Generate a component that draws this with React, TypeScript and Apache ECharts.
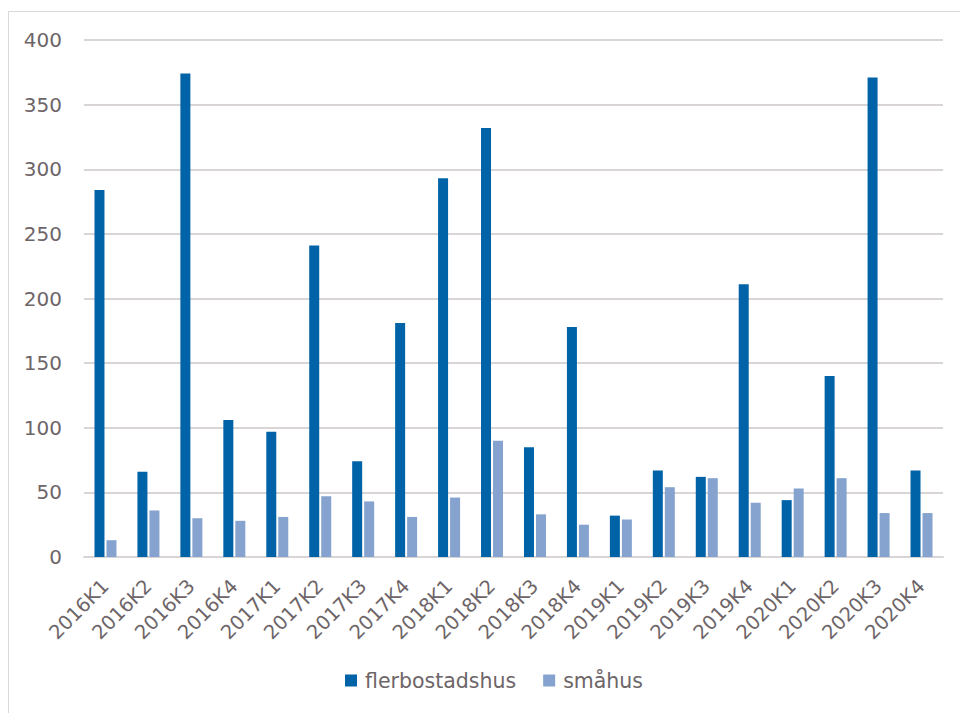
import React, { useEffect, useRef } from "react";
import * as echarts from "echarts";

const categories = [
  "2016K1", "2016K2", "2016K3", "2016K4",
  "2017K1", "2017K2", "2017K3", "2017K4",
  "2018K1", "2018K2", "2018K3", "2018K4",
  "2019K1", "2019K2", "2019K3", "2019K4",
  "2020K1", "2020K2", "2020K3", "2020K4",
];
const flerbostadshus = [284, 66, 374, 106, 97, 241, 74, 181, 293, 332, 85, 178, 32, 67, 62, 211, 44, 140, 371, 67];
const smahus = [13, 36, 30, 28, 31, 47, 43, 31, 46, 90, 33, 25, 29, 54, 61, 42, 53, 61, 34, 34];
const yTicks = { min: 0, max: 400, interval: 50 };

const TEXT = "#6d6568";
const FONT = "DejaVu Sans";

export default function App() {
  const ref = useRef<HTMLDivElement>(null);
  useEffect(() => {
    if (!ref.current) return;
    const chart = echarts.init(ref.current, null, { renderer: "svg" });
    chart.setOption({
      animation: false,
      backgroundColor: "#ffffff",
      textStyle: { fontFamily: FONT },
      graphic: [
        {
          type: "rect",
          shape: { x: 8.5, y: 11.5, width: 1000, height: 1000 },
          style: { fill: "none", stroke: "#d9d9d9", lineWidth: 1 },
          silent: true,
        },
      ],
      grid: { left: 84, right: 17, top: 40, bottom: 156, containLabel: false },
      legend: {
        bottom: 17,
        left: 340,
        itemWidth: 12,
        itemHeight: 12,
        itemGap: 27,
        icon: "rect",
        textStyle: { color: TEXT, fontSize: 20.5, fontFamily: FONT, padding: [0, 0, 0, 3] },
        data: ["flerbostadshus", "småhus"],
      },
      xAxis: {
        type: "category",
        data: categories,
        axisLine: { show: true, lineStyle: { color: "#d9d5d6", width: 2 } },
        axisTick: { show: false },
        axisLabel: { rotate: 45, color: TEXT, fontSize: 19.5, fontFamily: FONT, margin: 26, interval: 0 },
      },
      yAxis: {
        type: "value",
        min: yTicks.min,
        max: yTicks.max,
        interval: yTicks.interval,
        axisLine: { show: false },
        axisTick: { show: false },
        splitLine: { lineStyle: { color: "#d9d5d6", width: 2 } },
        axisLabel: { color: TEXT, fontSize: 20, fontFamily: FONT, margin: 22 },
      },
      series: [
        {
          name: "flerbostadshus",
          type: "bar",
          data: flerbostadshus,
          barWidth: 10,
          barGap: "20%",
          itemStyle: { color: "#0063a8" },
        },
        {
          name: "småhus",
          type: "bar",
          data: smahus,
          barWidth: 10,
          itemStyle: { color: "#85a3ce" },
        },
      ],
    });
    return () => chart.dispose();
  }, []);
  return (
    <div
      ref={ref}
      style={{ position: "fixed", left: 0, top: 0, width: 960, height: 713 }}
    />
  );
}
